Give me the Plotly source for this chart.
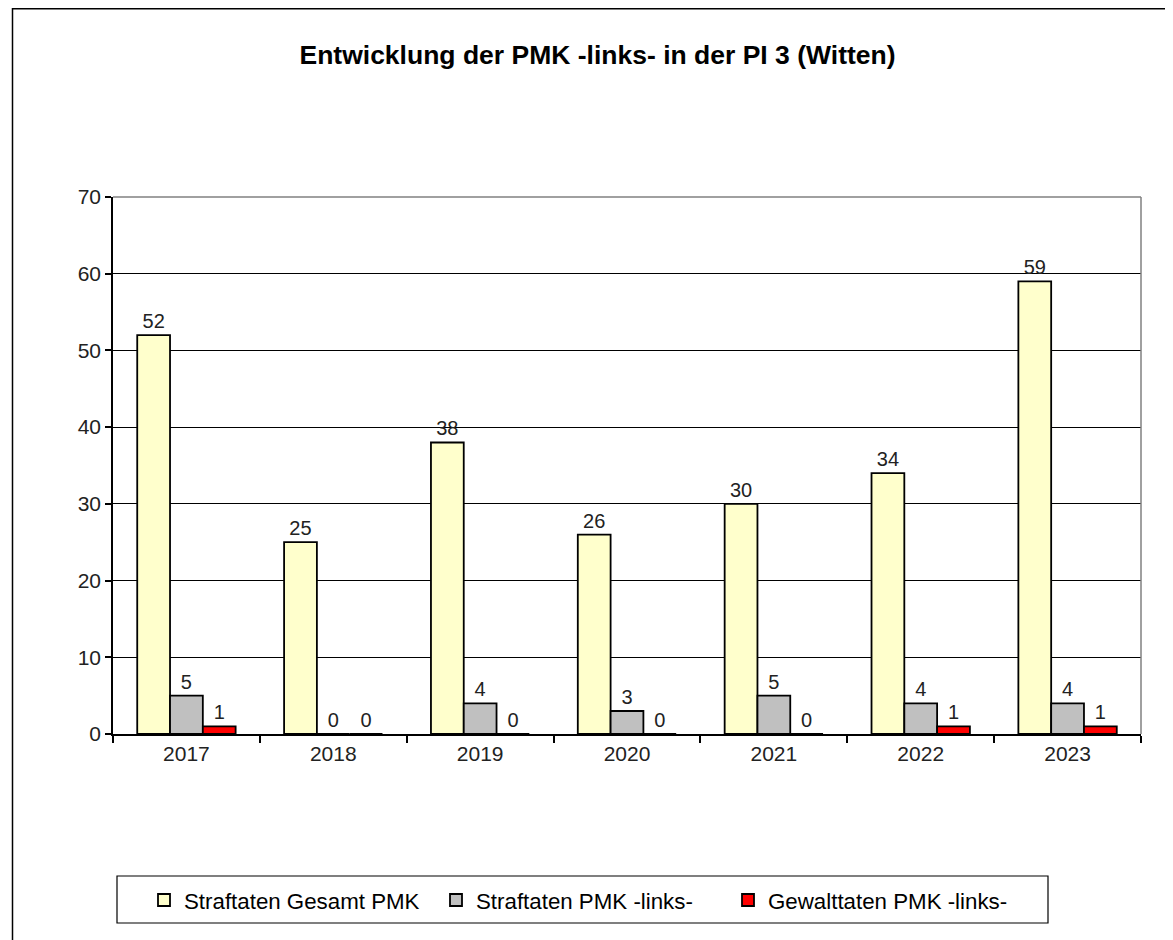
import plotly.graph_objects as go

years = ["2017", "2018", "2019", "2020", "2021", "2022", "2023"]
gesamt = [52, 25, 38, 26, 30, 34, 59]
links = [5, 0, 4, 3, 5, 4, 4]
gewalt = [1, 0, 0, 0, 0, 1, 1]

names = ["Straftaten Gesamt PMK", "Straftaten PMK -links-", "Gewalttaten PMK -links-"]
colors = ["#FFFFCC", "#C0C0C0", "#FF0000"]
series = [gesamt, links, gewalt]

FONT = "Liberation Sans, Arial, sans-serif"
W, H = 1165, 932          # page has an 8px body margin
L, R, T, B = 105, 1133, 189, 726
PW, PH = R - L, B - T


def px(x):
    return (x - L) / PW


def py(y):
    return (B - y) / PH


fig = go.Figure()
for name, col, vals in zip(names, colors, series):
    fig.add_trace(go.Bar(
        x=years, y=vals, name=name,
        marker=dict(color=col, line=dict(color="black", width=1.8)),
        text=[str(v) for v in vals], textposition="outside",
        textfont=dict(family=FONT, size=20, color="#222"),
        cliponaxis=False,
    ))

fig.update_layout(
    width=W, height=H,
    margin=dict(l=L, r=W - R, t=T, b=H - B),
    paper_bgcolor="white", plot_bgcolor="white",
    barmode="group", bargap=0.33, bargroupgap=0,
    font=dict(family=FONT, size=20, color="#222"),
    title=dict(text="<b>Entwicklung der PMK -links- in der PI 3 (Witten)</b>",
               x=589.5 / W, xanchor="center", y=1 - 47 / H, yanchor="middle",
               font=dict(family=FONT, size=26.5, color="black")),
    showlegend=True,
    legend=dict(orientation="h", x=px(136), xanchor="left",
                y=py(892), yanchor="middle",
                font=dict(family=FONT, size=22.3, color="black"),
                bgcolor="rgba(0,0,0,0)", borderwidth=0, itemwidth=30,
                entrywidthmode="pixels", entrywidth=247, traceorder="normal"),
    yaxis=dict(range=[0, 70], dtick=10, showgrid=True, gridcolor="black", gridwidth=1,
               showline=True, linecolor="black", linewidth=1.5,
               ticks="outside", ticklen=6, tickcolor="black", tickwidth=1.5,
               tickfont=dict(family=FONT, size=21, color="#222"), zeroline=False),
    xaxis=dict(showline=True, linecolor="black", linewidth=1.5,
               ticks="outside", ticklen=7, tickcolor="black", tickwidth=1.5,
               tickson="boundaries",
               tickfont=dict(family=FONT, size=21, color="#222")),
    shapes=[
        # plot area right/top border (gray)
        dict(type="line", xref="paper", yref="paper", x0=1, x1=1, y0=0, y1=1,
             line=dict(color="#808080", width=1.5)),
        dict(type="line", xref="paper", yref="paper", x0=0, x1=1, y0=1, y1=1,
             line=dict(color="#808080", width=1.5)),
        # outer frame (left and top)
        dict(type="line", xref="paper", yref="paper", x0=px(4.5), x1=px(4.5),
             y0=py(0), y1=py(H + 5), line=dict(color="black", width=1.5)),
        dict(type="line", xref="paper", yref="paper", x0=px(4.5), x1=px(W + 5),
             y0=py(0.75), y1=py(0.75), line=dict(color="black", width=1.5)),
        # legend box
        dict(type="rect", xref="paper", yref="paper",
             x0=px(109), x1=px(1040), y0=py(868), y1=py(915),
             line=dict(color="black", width=1.2)),
    ],
)

fig.write_html("out.html")
